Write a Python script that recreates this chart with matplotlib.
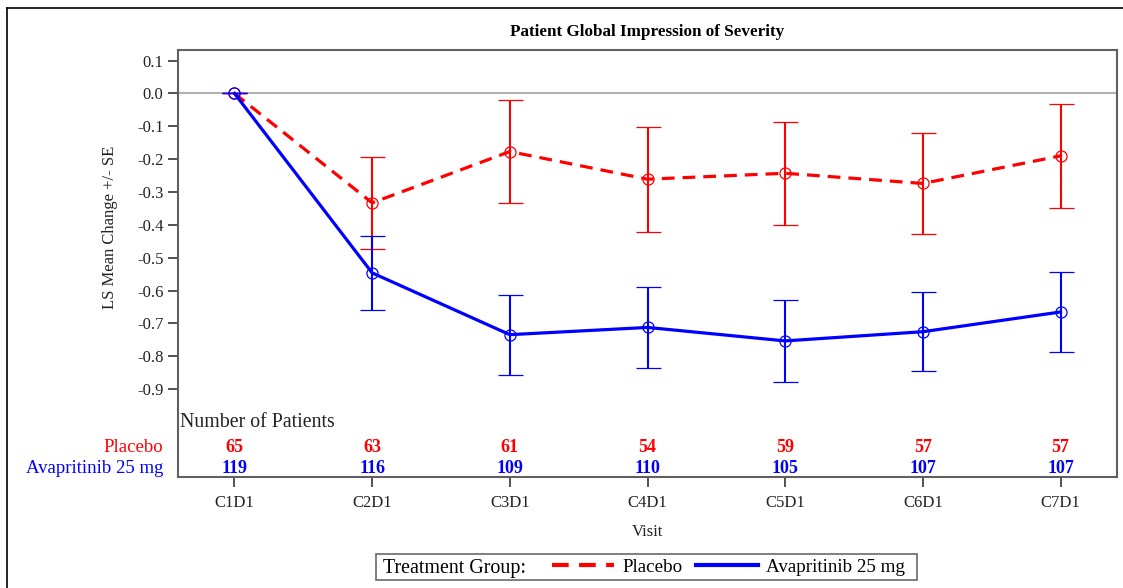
import matplotlib
matplotlib.use("Agg")
import matplotlib.pyplot as plt
from matplotlib.lines import Line2D
from matplotlib.offsetbox import HPacker, VPacker, DrawingArea, TextArea
import numpy as np

plt.rcParams["font.family"] = ["Liberation Serif", "DejaVu Serif"]
plt.rcParams["axes.unicode_minus"] = False

visits = ["C1D1", "C2D1", "C3D1", "C4D1", "C5D1", "C6D1", "C7D1"]
placebo_mean = [0.0, -0.333, -0.177, -0.261, -0.243, -0.274, -0.190]
placebo_se = [0.0, 0.140, 0.156, 0.160, 0.156, 0.153, 0.159]
ava_mean = [0.0, -0.546, -0.734, -0.712, -0.753, -0.725, -0.665]
ava_se = [0.0, 0.112, 0.122, 0.123, 0.125, 0.121, 0.123]
placebo_n = [65, 63, 61, 54, 59, 57, 57]
ava_n = [119, 116, 109, 110, 105, 107, 107]
yticks = [0.1, 0.0, -0.1, -0.2, -0.3, -0.4, -0.5, -0.6, -0.7, -0.8, -0.9]

RED = "#ff0000"
BLUE = "#0000ff"

fig = plt.figure(figsize=(11.23, 5.88), dpi=100)
W, H = 1123, 588
ax = fig.add_axes([178 / W, 1 - 477 / H, (1117 - 178) / W, (477 - 50) / H])

x = np.arange(len(visits))

ax.axhline(0, color="#b0b0b0", lw=1.5, zorder=1)

ax.errorbar(x, placebo_mean, yerr=placebo_se, color=RED, ecolor=RED,
            elinewidth=1.5, capsize=9, capthick=1.5, lw=2.3,
            linestyle=(0, (4, 2.5)), marker="o", markersize=8,
            markerfacecolor="none", markeredgecolor=RED, markeredgewidth=0.9,
            zorder=3, label="Placebo")
ax.errorbar(x, ava_mean, yerr=ava_se, color=BLUE, ecolor=BLUE,
            elinewidth=1.5, capsize=9, capthick=1.5, lw=2.3,
            linestyle="-", marker="o", markersize=8,
            markerfacecolor="none", markeredgecolor=BLUE, markeredgewidth=0.9,
            zorder=4, label="Avapritinib 25 mg")

ax.set_xlim(-0.41, len(visits) - 1 + 0.41)
ax.set_ylim(-1.167, 0.132)
ax.set_xticks(x)
ax.set_xticklabels(visits, fontsize=12)
ax.set_yticks(yticks)
ax.set_yticklabels([f"{v:.1f}" for v in yticks], fontsize=12)
ax.tick_params(axis="both", direction="out", length=7, width=1.2,
               color="#333333", labelcolor="#222222")
ax.tick_params(axis="x", pad=6)
for sp in ax.spines.values():
    sp.set_color("#606060")
    sp.set_linewidth(1.5)

ax.set_xlabel("Visit", fontsize=12, color="#222222", labelpad=9)
ax.set_ylabel("LS Mean Change +/- SE", fontsize=12, color="#222222")
ax.yaxis.set_label_coords(-0.064, 0.585)

# patient counts table inside the plotting area
trans = ax.get_xaxis_transform()
ax.text(0.002, 0.128, "Number of Patients", transform=ax.transAxes,
        ha="left", va="center", fontsize=14.3, color="#222222")
ax.text(-0.016, 0.068, "Placebo", transform=ax.transAxes, ha="right",
        va="center", fontsize=13.5, color=RED)
ax.text(-0.016, 0.021, "Avapritinib 25 mg", transform=ax.transAxes, ha="right",
        va="center", fontsize=13.5, color=BLUE)
for xi, n in zip(x, placebo_n):
    ax.text(xi, 0.068, str(n), transform=trans, ha="center", va="center",
            fontsize=13, fontweight="bold", color=RED)
for xi, n in zip(x, ava_n):
    ax.text(xi, 0.021, str(n), transform=trans, ha="center", va="center",
            fontsize=13, fontweight="bold", color=BLUE)

fig.text(647.5 / W, 1 - 32 / H, "Patient Global Impression of Severity",
         ha="center", va="center", fontsize=12.3, fontweight="bold")

# legend with its title placed on the left of the entries
handles = [Line2D([], [], color=RED, lw=3, linestyle=(0, (4, 2.5))),
           Line2D([], [], color=BLUE, lw=3)]
leg = ax.legend(handles, ["Placebo", "Avapritinib 25 mg"], ncol=2,
                fontsize=13.7,
                loc="center", bbox_to_anchor=(646.5 / W, 1 - 567 / H),
                bbox_transform=fig.transFigure, frameon=True, fancybox=False,
                edgecolor="#444444", handlelength=3.25, handletextpad=0.45,
                columnspacing=0.7, borderpad=0.25, borderaxespad=0)
leg.get_frame().set_linewidth(1.2)
fs = leg._fontsize
title_box = TextArea("Treatment Group:",
                     textprops=dict(fontsize=14.4, color="black"))
title_col = VPacker(pad=0, sep=0, align="left",
                    children=[DrawingArea(1, 1.6), title_box])
inner = HPacker(pad=0, sep=1.35 * fs, align="center",
                children=[title_col, leg._legend_handle_box])
hbox = HPacker(pad=0.1 * fs, sep=0, align="center",
               children=[DrawingArea(4, 1), inner, DrawingArea(7, 1)])
hbox.set_figure(fig)
hbox.axes = ax
hbox.set_offset(leg._findoffset)
leg._legend_box = hbox

# outer frame edges
fig.add_artist(Line2D([7 / W, 7 / W], [0, 1 - 8 / H], color="black", lw=1.2,
                      transform=fig.transFigure))
fig.add_artist(Line2D([7 / W, 1], [1 - 8 / H, 1 - 8 / H], color="black",
                      lw=1.2, transform=fig.transFigure))

fig.savefig("out.png", dpi=100)
